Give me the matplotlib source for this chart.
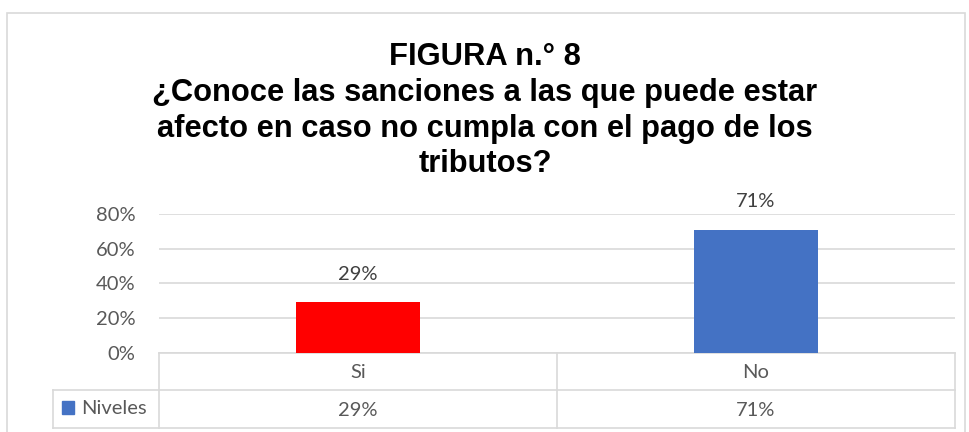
import matplotlib
matplotlib.use('Agg')
import matplotlib.pyplot as plt
import matplotlib.transforms as mtransforms
from matplotlib.patches import Rectangle
from matplotlib.lines import Line2D
import numpy as np

plt.rcParams['font.family'] = ['Lato', 'DejaVu Sans']

# data
categories = ['Si', 'No']
valores = [0.29, 0.71]
etiquetas = ['29%', '71%']
colores = ['#FF0000', '#4472C4']
serie = 'Niveles'
yticks = [0, 0.2, 0.4, 0.6, 0.8]
titulo = ('FIGURA n.° 8\n¿Conoce las sanciones a las que puede estar\n'
          'afecto en caso no cumpla con el pago de los\ntributos?')

W, H = 970, 432
fig = plt.figure(figsize=(W / 100, H / 100), dpi=100)

def px(x0, y0, x1, y1):
    # pixel box (top-left origin) -> figure fraction rect
    return [x0 / W, 1 - y1 / H, (x1 - x0) / W, (y1 - y0) / H]

grid_c = '#D9D9D9'
txt_c = '#595959'
fs = 14.5

# outer chart border
fig.add_artist(Rectangle((7 / W, -0.1), (965 - 7) / W, 1.1 - 13 / H,
                         transform=fig.transFigure, fill=False,
                         edgecolor=grid_c, lw=1.2))

ax = fig.add_axes(px(159, 214, 955, 352.7))
x = np.arange(len(categories))
ax.bar(x, valores, width=0.314, color=colores, zorder=3)
ax.set_xlim(-0.5, len(categories) - 0.5)
ax.set_ylim(0, 0.8)
ax.set_yticks(yticks)
ax.set_yticklabels(['{:.0f}%'.format(v * 100) for v in yticks],
                   fontsize=fs, color=txt_c)
ax.tick_params(axis='y', length=0, pad=17)
ax.set_xticks([])
for s in ax.spines.values():
    s.set_visible(False)
ax.grid(axis='y', color=grid_c, lw=1.2, zorder=0)
ax.set_axisbelow(True)

for xi, v, lab in zip(x, valores, etiquetas):
    ax.annotate(lab, (xi, v), xytext=(0, 14), textcoords='offset points',
                ha='center', va='bottom', fontsize=fs, color='#404040')

# data table below the axis
axh = 352.7 - 214
def yfrac(py):
    return (352.7 - py) / axh

trans = mtransforms.blended_transform_factory(ax.transData, ax.transAxes)
xl = -0.5 + (53 - 159) / 398.0
xr = len(categories) - 0.5
y0, y1, y2 = yfrac(352.7), yfrac(390), yfrac(428)
lines = [
    ([-0.5, xr], [y0, y0]),
    ([xl, xr], [y1, y1]),
    ([xl, xr], [y2, y2]),
    ([xl, xl], [y1, y2]),
    ([-0.5, -0.5], [y0, y2]),
]
for k in range(len(categories)):
    lines.append(([k + 0.5, k + 0.5], [y0, y2]))
for xs, ys in lines:
    ax.add_line(Line2D(xs, ys, transform=trans, color=grid_c, lw=1.2,
                       clip_on=False, zorder=1))

r1 = yfrac(372)
r2 = yfrac(410)
for xi, cat, lab in zip(x, categories, etiquetas):
    ax.text(xi, r1, cat, transform=trans, ha='center', va='center',
            fontsize=fs, color=txt_c)
    ax.text(xi, r2, lab, transform=trans, ha='center', va='center',
            fontsize=fs, color=txt_c)

fig.add_artist(Rectangle((62 / W, 1 - 414 / H), 12 / W, 13 / H,
                         transform=fig.transFigure, color='#4472C4'))
fig.text(81 / W, 1 - 409 / H, serie, ha='left', va='center',
         fontsize=fs, color=txt_c)

fig.text(485 / W, 1 - 42 / H, titulo, ha='center', va='top',
         fontsize=22.2, fontweight='bold', family='Liberation Sans',
         linespacing=1.25, color='black')

fig.savefig('out.png', dpi=100)
